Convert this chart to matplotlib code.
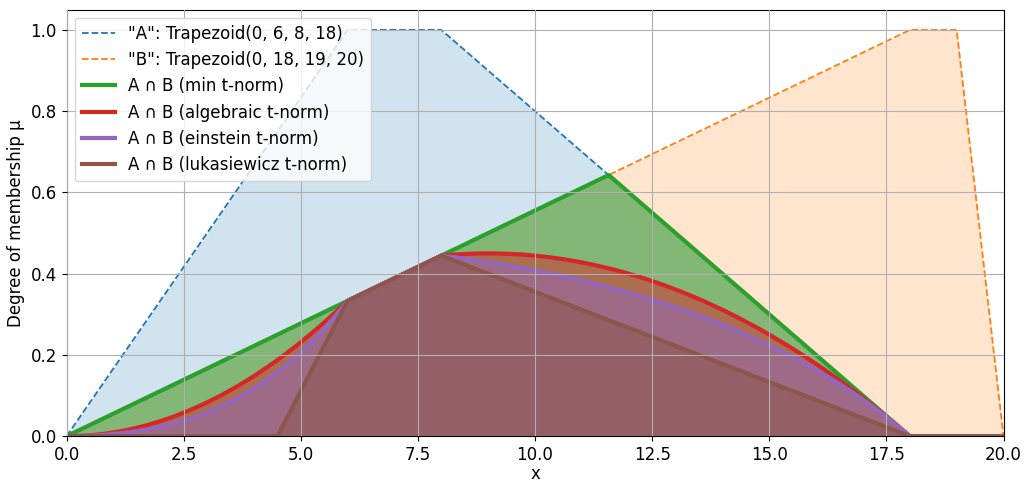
import numpy as np
import matplotlib.pyplot as plt

# trapezoid parameters, as given in the legend
trap_a = [0, 6, 8, 18]
trap_b = [0, 18, 19, 20]
x_min, x_max = 0, 20


def trapezoid(x, p):
    a, b, c, d = p
    up = np.where(b > a, (x - a) / max(b - a, 1e-12), 1.0)
    down = np.where(d > c, (d - x) / max(d - c, 1e-12), 1.0)
    return np.clip(np.minimum(np.minimum(up, 1.0), down), 0, 1)


x = np.linspace(x_min, x_max, 2001)
mu_a = trapezoid(x, trap_a)
mu_b = trapezoid(x, trap_b)

t_min = np.minimum(mu_a, mu_b)
t_alg = mu_a * mu_b
t_ein = mu_a * mu_b / (2 - (mu_a + mu_b - mu_a * mu_b))
t_luk = np.maximum(0, mu_a + mu_b - 1)

plt.rcParams['font.size'] = 12
fig, ax = plt.subplots(figsize=(10.24, 4.82), dpi=100)

ax.plot(x, mu_a, "--", color="C0", lw=1.3, label='"A": Trapezoid(0, 6, 8, 18)')
ax.fill_between(x, mu_a, color="C0", alpha=0.2, lw=0)
ax.plot(x, mu_b, "--", color="C1", lw=1.3, label='"B": Trapezoid(0, 18, 19, 20)')
ax.fill_between(x, mu_b, color="C1", alpha=0.2, lw=0)

series = [
    (t_min, "C2", "A ∩ B (min t-norm)"),
    (t_alg, "C3", "A ∩ B (algebraic t-norm)"),
    (t_ein, "C4", "A ∩ B (einstein t-norm)"),
    (t_luk, "C5", "A ∩ B (lukasiewicz t-norm)"),
]
for y, col, lab in series:
    ax.plot(x, y, color=col, lw=3, label=lab)
    ax.fill_between(x, y, color=col, alpha=0.5, lw=0)

ax.set_xlim(x_min, x_max)
ax.set_ylim(0, 1.05)
ax.set_xlabel("x", labelpad=1)
ax.set_ylabel("Degree of membership μ")
ax.grid(True)
ax.set_axisbelow(False)
ax.legend(loc="upper left")
fig.subplots_adjust(left=0.065, right=0.98, top=0.98, bottom=0.095)
fig.savefig("out.png", dpi=100)
